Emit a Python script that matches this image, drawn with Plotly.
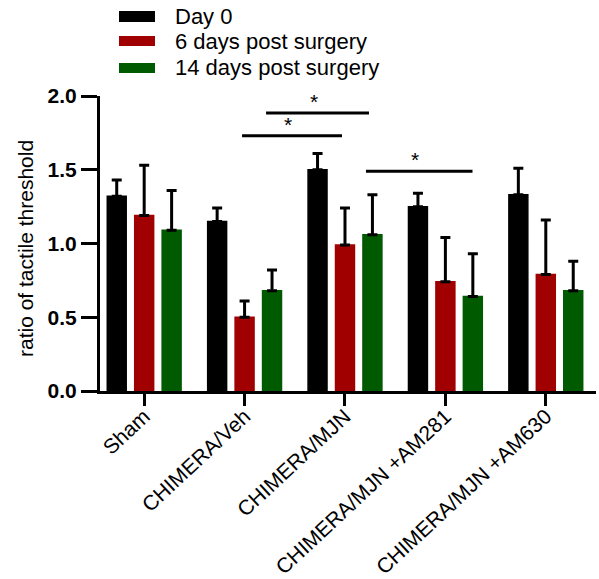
import plotly.graph_objects as go

categories = ["Sham", "CHIMERA/Veh", "CHIMERA/MJN", "CHIMERA/MJN +AM281", "CHIMERA/MJN +AM630"]
series_names = ["Day 0", "6 days post surgery", "14 days post surgery"]
day0 = [1.32, 1.15, 1.50, 1.25, 1.33]
day0_err = [0.11, 0.09, 0.11, 0.09, 0.18]
day6 = [1.19, 0.50, 0.99, 0.74, 0.79]
day6_err = [0.34, 0.11, 0.25, 0.30, 0.37]
day14 = [1.09, 0.68, 1.06, 0.64, 0.68]
day14_err = [0.27, 0.14, 0.27, 0.29, 0.20]
y_ticks = [0.0, 0.5, 1.0, 1.5, 2.0]

# significance brackets (category-index positions) and levels
sig_x0 = [0.975, 1.214, 2.209]
sig_x1 = [1.97, 2.239, 3.27]
sig_y = [1.73, 1.885, 1.49]
sig_text = ["*", "*", "*"]

colors = ["#000000", "#a00000", "#005a00"]
FONT = "Arial, Liberation Sans, sans-serif"

fig = go.Figure()
for name, vals, errs, col in zip(series_names, [day0, day6, day14],
                                 [day0_err, day6_err, day14_err], colors):
    fig.add_trace(go.Bar(
        x=categories, y=vals, name=name,
        marker=dict(color=col, line=dict(color=col, width=1.5)),
        error_y=dict(type="data", array=errs, arrayminus=[0] * len(errs), symmetric=False,
                     color="#000000", thickness=3, width=5),
        showlegend=False,
    ))

shapes = []
annotations = []
for x0, x1, yv, t in zip(sig_x0, sig_x1, sig_y, sig_text):
    shapes.append(dict(type="line", xref="x", yref="y", x0=x0, x1=x1, y0=yv, y1=yv,
                       line=dict(color="#000000", width=3)))
    annotations.append(dict(xref="x", yref="y", x=(x0 + x1) / 2 - 0.04, y=yv, text=t,
                            showarrow=False, yanchor="bottom", yshift=-2,
                            font=dict(family=FONT, size=21, color="#000000")))

# manual legend (pixel positions mapped to plot-area paper coords)
L, PW, B, PH = 100, 496, 391, 295
def px(x):
    return (x - L) / PW
def py(y):
    return (B - y) / PH
legend_rows = [(11, 22), (36, 46), (63, 73)]
for (ya, yb), name, col in zip(legend_rows, series_names, colors):
    shapes.append(dict(type="rect", xref="paper", yref="paper", x0=px(119), x1=px(155),
                       y0=py(yb), y1=py(ya), fillcolor=col, line=dict(width=0)))
    annotations.append(dict(xref="paper", yref="paper", x=px(173), y=py((ya + yb) / 2),
                            text=name, showarrow=False, xanchor="left", yanchor="middle",
                            font=dict(family=FONT, size=22, color="#000000")))

# y-axis title as a rotated annotation
annotations.append(dict(xref="paper", yref="paper", x=px(25), y=py(249),
                        text="ratio of tactile threshold", textangle=-90, showarrow=False,
                        xanchor="center", yanchor="middle",
                        font=dict(family=FONT, size=21, color="#000000")))

fig.update_layout(
    width=599, height=579,
    margin=dict(l=100, r=3, t=96, b=188),
    paper_bgcolor="white", plot_bgcolor="white",
    barmode="group", bargap=0.18, bargroupgap=0.31,
    shapes=shapes, annotations=annotations,
    font=dict(family=FONT, color="#000000"),
)
fig.update_xaxes(
    range=[-0.44, 4.5], showline=True, linecolor="#000000", linewidth=3,
    ticks="outside", ticklen=12, tickwidth=3, tickcolor="#000000",
    tickangle=-43, ticklabelstandoff=-10,
    tickfont=dict(family=FONT, size=21, color="#000000"),
    showgrid=False, zeroline=False, automargin=False,
)
fig.update_yaxes(
    range=[0, 2.0], tickvals=y_ticks, tickformat=".1f",
    showline=True, linecolor="#000000", linewidth=3,
    ticks="outside", ticklen=16, tickwidth=3, tickcolor="#000000",
    tickfont=dict(family=FONT, size=21, color="#000000", weight="bold"),
    showgrid=False, zeroline=False, automargin=False,
)
fig.write_html("out.html", config={"displayModeBar": False},
               post_script="document.body.style.margin='0';")
